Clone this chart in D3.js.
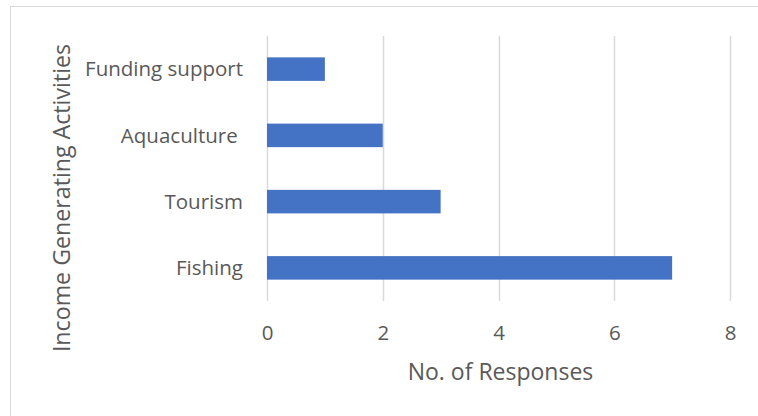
<!DOCTYPE html>
<html><head><meta charset="utf-8">
<script src="https://cdn.jsdelivr.net/npm/d3@7"></script>
<style>html,body{margin:0;padding:0;background:#fff;}svg{display:block;}text{white-space:pre;}</style>
</head><body>
<svg id="c" width="758" height="416"></svg>
<script>
const categories = ["Funding support", "Aquaculture ", "Tourism", "Fishing"];
const values = [1, 2, 3, 7];
const xTicks = [0, 2, 4, 6, 8];
const xTitle = "No. of Responses";
const yTitle = "Income Generating Activities";

(function () {
const svg = d3.select("#c");
const font = "'Open Sans', 'Segoe UI', sans-serif";
const textColor = "#595959";

svg.append("rect").attr("x", 10.5).attr("y", 6.5).attr("width", 800).attr("height", 500)
  .attr("fill", "#fff").attr("stroke", "#d9d9d9").attr("stroke-width", 1);

const pL = 267, pR = 730, pT = 36, pB = 301;
const x = d3.scaleLinear().domain([0, 8]).range([pL, pR]);
const y = d3.scaleBand().domain(categories).range([pT, pB]).paddingInner(0.645).paddingOuter(0.3225);

svg.append("g").selectAll("line").data(xTicks).join("line")
  .attr("x1", d => Math.round(x(d)) + 0.5).attr("x2", d => Math.round(x(d)) + 0.5)
  .attr("y1", pT).attr("y2", pB)
  .attr("stroke", "#d9d9d9").attr("stroke-width", 1.5);

svg.append("g").selectAll("rect").data(values).join("rect")
  .attr("x", x(0)).attr("y", (d, i) => y(categories[i]))
  .attr("width", d => x(d) - x(0)).attr("height", y.bandwidth())
  .attr("fill", "#4472C4");

const xAxis = d3.axisBottom(x).tickValues(xTicks).tickSize(0).tickPadding(0);
const gx = svg.append("g").attr("transform", `translate(0,${pB})`).call(xAxis);
gx.select(".domain").remove();
gx.selectAll("text").attr("dy", null).attr("y", 39).attr("font-family", font).attr("font-size", 20.5).attr("fill", textColor);

const yAxis = d3.axisLeft(y).tickSize(0).tickPadding(0);
const gy = svg.append("g").attr("transform", `translate(${pL},0)`).call(yAxis);
gy.select(".domain").remove();
gy.selectAll("text").attr("x", -24).attr("dy", "0.35em").attr("font-family", font).attr("font-size", 20.5).attr("fill", textColor);

svg.append("text").attr("x", (pL + pR) / 2 + 2).attr("y", 380).attr("text-anchor", "middle")
  .attr("font-family", font).attr("font-size", 23).attr("fill", textColor).text(xTitle);

svg.append("text").attr("transform", "translate(70,198) rotate(-90)").attr("text-anchor", "middle")
  .attr("font-family", font).attr("font-size", 23.2).attr("fill", textColor).text(yTitle);
})();
</script>
</body></html>
